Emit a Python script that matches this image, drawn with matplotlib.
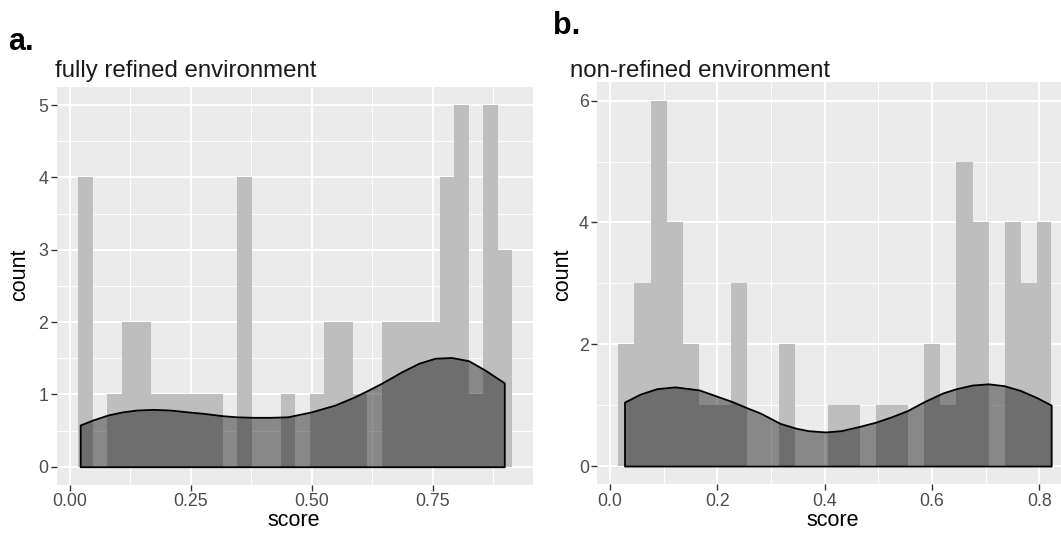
import matplotlib.pyplot as plt
import numpy as np
from matplotlib.ticker import AutoMinorLocator

plt.rcParams['font.family'] = ['Liberation Sans', 'DejaVu Sans']

# panel a: fully refined environment (30 bins)
a_start = 0.017
a_width = 0.0299
a_counts = [4, 0, 1, 2, 2, 1, 1, 1, 1, 1, 0, 4, 0, 0, 1,
            0, 1, 2, 2, 1, 0, 2, 2, 2, 2, 4, 5, 1, 5, 3]
a_dens_x = [0.021, 0.047, 0.078, 0.110, 0.138, 0.172, 0.207, 0.241, 0.276,
            0.316, 0.345, 0.379, 0.414, 0.450, 0.500, 0.548, 0.589, 0.617,
            0.644, 0.686, 0.721, 0.755, 0.789, 0.824, 0.858, 0.898]
a_dens_y = [0.577, 0.646, 0.715, 0.760, 0.784, 0.793, 0.784, 0.760, 0.738,
            0.705, 0.690, 0.683, 0.683, 0.690, 0.760, 0.853, 0.968, 1.060,
            1.153, 1.313, 1.430, 1.500, 1.510, 1.466, 1.337, 1.160]
a_xticks = [0.0, 0.25, 0.5, 0.75]
a_xlabels = ["0.00", "0.25", "0.50", "0.75"]
a_yticks = [0, 1, 2, 3, 4, 5]

# panel b: non-refined environment (last bin cut at the max)
b_start = 0.0155
b_width = 0.030
b_end = 0.822
b_counts = [2, 3, 6, 4, 2, 1, 1, 3, 0, 0, 2, 0, 0, 1, 1,
            0, 1, 1, 0, 2, 1, 5, 4, 0, 4, 3, 4]
b_dens_x = [0.027, 0.056, 0.087, 0.121, 0.166, 0.227, 0.257, 0.280, 0.317,
            0.347, 0.370, 0.401, 0.430, 0.4645, 0.495, 0.525, 0.554, 0.586,
            0.620, 0.645, 0.675, 0.705, 0.734, 0.765, 0.796, 0.822]
b_dens_y = [1.05, 1.18, 1.27, 1.30, 1.25, 1.06, 0.95, 0.87, 0.70,
            0.62, 0.58, 0.56, 0.58, 0.65, 0.72, 0.81, 0.91, 1.06,
            1.20, 1.27, 1.33, 1.35, 1.32, 1.24, 1.12, 1.00]
b_xticks = [0.0, 0.2, 0.4, 0.6, 0.8]
b_xlabels = ["0.0", "0.2", "0.4", "0.6", "0.8"]
b_yticks = [0, 2, 4, 6]

W, H = 1061, 534
fig = plt.figure(figsize=(W / 100, H / 100), dpi=100)


def panel(rect, edges, counts, dx, dy, xticks, xlabels, yticks, xlim, ylim):
    ax = fig.add_axes(rect)
    ax.set_facecolor('#EBEBEB')
    for s in ax.spines.values():
        s.set_visible(False)
    centers = (edges[:-1] + edges[1:]) / 2
    ax.hist(centers, bins=edges, weights=counts, color='#BEBEBE', zorder=2)
    ax.fill_between(dx, dy, 0, facecolor=(0, 0, 0, 0.42), edgecolor='black',
                    linewidth=1.3, zorder=3)
    ax.set_xlim(xlim)
    ax.set_ylim(ylim)
    ax.set_xticks(xticks)
    ax.set_xticklabels(xlabels)
    ax.set_yticks(yticks)
    ax.xaxis.set_minor_locator(AutoMinorLocator(2))
    ax.yaxis.set_minor_locator(AutoMinorLocator(2))
    ax.set_axisbelow(True)
    ax.grid(which='major', color='white', linewidth=1.4)
    ax.grid(which='minor', color='white', linewidth=0.7)
    ax.tick_params(which='major', length=4, width=1, color='#333333',
                   labelcolor='#4D4D4D', labelsize=12.8, pad=2)
    ax.tick_params(which='minor', length=0)
    return ax


a_edges = a_start + a_width * np.arange(len(a_counts) + 1)
ax1 = panel([56.5 / W, 1 - 484.8 / H, 476.3 / W, 397.8 / H],
            a_edges, a_counts, a_dens_x, a_dens_y,
            a_xticks, a_xlabels, a_yticks, (-0.028, 0.957), (-0.25, 5.25))

b_edges = b_start + b_width * np.arange(len(b_counts))
b_edges = np.append(b_edges, b_end)
ax2 = panel([597.3 / W, 1 - 484.3 / H, 463.7 / W, 401.9 / H],
            b_edges, b_counts, b_dens_x, b_dens_y,
            b_xticks, b_xlabels, b_yticks, (-0.0237, 0.8403), (-0.3, 6.3))

# labels and titles
fig.text(8 / W, 1 - 50 / H, "a.", fontsize=22, fontweight='bold')
fig.text(553 / W, 1 - 34 / H, "b.", fontsize=22, fontweight='bold')
fig.text(55 / W, 1 - 77 / H, "fully refined environment", fontsize=17.3,
         color='#1A1A1A')
fig.text(570 / W, 1 - 77 / H, "non-refined environment", fontsize=17.3,
         color='#1A1A1A')
fig.text(294 / W, 1 - 521 / H, "score", fontsize=15.5, ha='center', va='center')
fig.text(833 / W, 1 - 521 / H, "score", fontsize=15.5, ha='center', va='center')
fig.text(20 / W, 1 - 275 / H, "count", fontsize=15.5, rotation=90,
         ha='center', va='center')
fig.text(563 / W, 1 - 275 / H, "count", fontsize=15.5, rotation=90,
         ha='center', va='center')

fig.savefig("out.png", dpi=100)
